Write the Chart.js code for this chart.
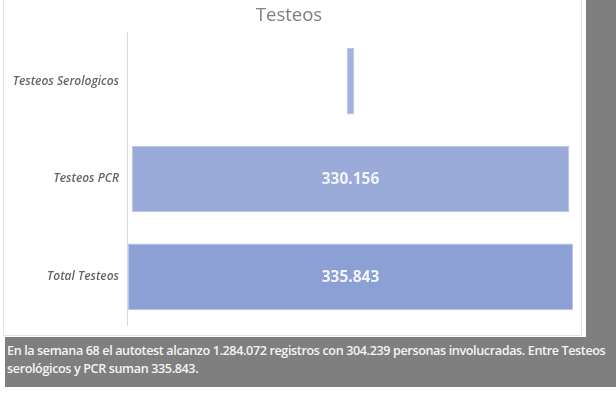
<!DOCTYPE html>
<html>
<head>
<meta charset="utf-8">
<script src="https://cdn.jsdelivr.net/npm/chart.js@4/dist/chart.umd.min.js"></script>
<style>
  html, body { margin: 0; padding: 0; background: #ffffff; }
  body { width: 616px; height: 393px; position: relative; overflow: hidden; font-family: "Open Sans", sans-serif; }
  #card {
    position: absolute; left: 3px; top: -1px; width: 577px; height: 335px;
    border: 1px solid #e4e4e4; background: #ffffff;
  }
  #chartBox { position: absolute; left: 0; top: 0; width: 577px; height: 341px; }
  #sideStrip { position: absolute; left: 586px; top: 0; width: 30px; height: 387px; background: #7f7f7f; }
  #note {
    position: absolute; left: 5px; top: 337px; width: 611px; height: 50px;
    background: #7f7f7f; color: #f4f4f4; box-sizing: border-box;
    padding: 5px 0 0 2px; font-size: 12.6px; font-weight: 600; line-height: 18px;
    letter-spacing: -0.38px; white-space: nowrap;
  }
</style>
</head>
<body>
<div id="card"><div id="chartBox"><canvas id="testeosChart"></canvas></div></div>
<div id="sideStrip"></div>
<div id="note">En la semana 68 el autotest alcanzo 1.284.072 registros con 304.239 personas involucradas. Entre Testeos<br>serológicos y PCR suman 335.843.</div>
<script>
const categories = ["Testeos Serologicos", "Testeos PCR", "Total Testeos"];
const testCounts = [5687, 330156, 335843];
const barColors = ["#a4b2de", "#9aaad9", "#8ca0d6"];

function formatThousands(value) {
  return String(value).replace(/\B(?=(\d{3})+(?!\d))/g, ".");
}

// funnel style: each bar is centred on zero
const funnelData = testCounts.map((v) => [-v / 2, v / 2]);

const valueLabelPlugin = {
  id: "valueLabelPlugin",
  afterDatasetsDraw(chart) {
    const { ctx } = chart;
    const meta = chart.getDatasetMeta(0);
    ctx.save();
    ctx.font = "bold 15.5px 'Open Sans', sans-serif";
    ctx.fillStyle = "#f3f5fb";
    ctx.textAlign = "center";
    ctx.textBaseline = "middle";
    meta.data.forEach((bar, index) => {
      const props = bar.getProps(["x", "y", "base"], true);
      const width = Math.abs(props.x - props.base);
      const text = formatThousands(testCounts[index]);
      if (width < ctx.measureText(text).width + 10) {
        return;
      }
      ctx.fillText(text, (props.x + props.base) / 2, props.y + 1);
    });
    ctx.restore();
  },
};

new Chart(document.getElementById("testeosChart"), {
  type: "bar",
  data: {
    labels: categories,
    datasets: [
      {
        data: funnelData,
        backgroundColor: barColors,
        borderColor: "#b7c3e6",
        borderWidth: 1,
        borderSkipped: false,
        categoryPercentage: 0.68,
        barPercentage: 1,
      },
    ],
  },
  options: {
    indexAxis: "y",
    responsive: true,
    maintainAspectRatio: false,
    animation: false,
    layout: { padding: { left: 0, right: 7, top: 0, bottom: 3 } },
    scales: {
      x: {
        display: false,
        min: -168700,
        max: 168700,
      },
      y: {
        grid: { display: false, drawTicks: false },
        border: { display: true, color: "#d9d9d9", width: 1 },
        ticks: {
          color: "#666666",
          padding: 8,
          font: { family: "'Open Sans', sans-serif", size: 12, style: "italic", weight: "600" },
        },
        afterFit(scale) {
          scale.width = 123;
        },
      },
    },
    plugins: {
      legend: { display: false },
      tooltip: { enabled: false },
      title: {
        display: true,
        text: "Testeos",
        color: "#7f7f7f",
        padding: { top: 5, bottom: 5 },
        font: { family: "'Open Sans', sans-serif", size: 18.5, weight: "normal" },
      },
    },
  },
  plugins: [valueLabelPlugin],
});
</script>
</body>
</html>
